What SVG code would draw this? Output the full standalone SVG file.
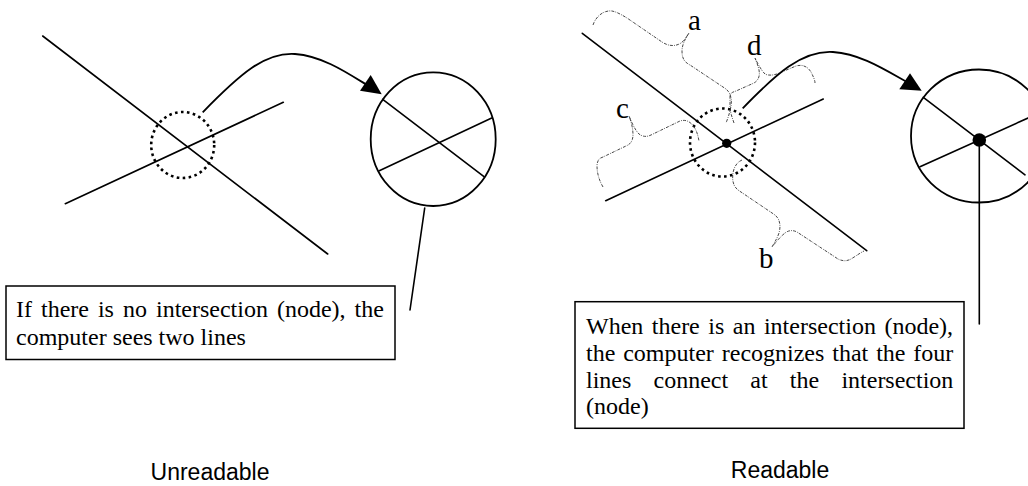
<svg xmlns="http://www.w3.org/2000/svg" width="1028" height="486" viewBox="0 0 1028 486">
<style>
.ln{stroke:#000;stroke-width:1.6;fill:none;stroke-linecap:round}
.crv{stroke:#000;stroke-width:1.8;fill:none}
.big{stroke:#000;stroke-width:1.8;fill:none}
.dot{stroke:#000;stroke-width:2.6;fill:none;stroke-dasharray:2.6 3.4}
.brace{stroke:#333;stroke-width:0.9;fill:none;stroke-dasharray:3 1.2 0.8 1.2}
.box{stroke:#000;stroke-width:1.5;fill:#fff}
.tx{font-family:"Liberation Serif","Times New Roman",serif;font-size:24px;fill:#000}
.lb{font-family:"Liberation Serif","Times New Roman",serif;font-size:29px;fill:#000}
.cap{font-family:"Liberation Sans",Arial,sans-serif;font-size:23px;fill:#000;text-anchor:middle}
</style>

<g id="left-lines">
<line class="ln" x1="42.7" y1="36" x2="327.7" y2="254"/>
<line class="ln" x1="65.3" y1="203.7" x2="283.3" y2="102.3"/>
<ellipse class="dot" cx="182.7" cy="145" rx="31.5" ry="33"/>
</g>
<g id="left-zoom">
<ellipse class="big" cx="433.2" cy="139.2" rx="62.5" ry="66.8"/>
<line class="ln" x1="382.7" y1="99.3" x2="484" y2="176.7"/>
<line class="ln" x1="379.3" y1="170.7" x2="491.7" y2="118"/>
</g>
<g id="left-box">
<rect class="box" x="6" y="286" width="389" height="73.5"/>
<text class="tx" x="16" y="316.7" word-spacing="3">If there is no intersection (node), the</text>
<text class="tx" x="16" y="345">computer sees two lines</text>
</g>
<text class="cap" x="210" y="480">Unreadable</text>

<g id="right-lines">
<line class="ln" x1="582.3" y1="33.3" x2="866.7" y2="250.7"/>
<line class="ln" x1="605.7" y1="200.7" x2="823.3" y2="99"/>
<ellipse class="dot" cx="722.5" cy="142.5" rx="32.5" ry="34"/>
<circle cx="726.7" cy="143.3" r="4.6" fill="#000"/>
</g>
<g id="braces">
<path class="brace" d="M593,25 C596,16 604,10 612,11 C617,12 622,15 627,18 L662,42 C668,46 675,47 681,43 C685,40 687,36 689,33 C685,39 682,45 682,51 C682,58 684,62 690,65 L726,89 C731,93 732,100 731,106 C730,112 728,118 726,123"/>
<path class="brace" d="M734,123 C732,117 730,112 730,106 L730,96 C730,93 733,92 736,91 L754,83 C759,80 760,75 759,70 C758,65 756,61 755,58 C758,64 761,70 765,74 C769,76 773,75 777,74 L796,66 C803,64 808,67 811,72 C813,76 815,80 815,83"/>
<path class="brace" d="M603,187 C599,180 597,173 597,166 C597,161 599,158 603,157 L626,146 C631,144 633,140 633,135 C633,128 631,121 629,116 C632,123 635,130 639,134 C643,137 647,137 651,135 L680,121 C686,119 691,122 694,127 C697,131 698,136 699,141"/>
<path class="brace" d="M742,160 C737,162 734,167 733,173 C732,180 733,186 738,190 L775,215 C780,219 781,226 779,233 C777,239 774,243 772,247 C776,242 780,237 785,233 C789,230 793,230 797,232 L835,257 C840,261 846,262 851,259 C856,256 860,253 864,251"/>
<text class="lb" x="688" y="30">a</text>
<text class="lb" x="759" y="268">b</text>
<text class="lb" x="616" y="118">c</text>
<text class="lb" x="747" y="55">d</text>
</g>
<g id="right-zoom">
<ellipse class="big" cx="979" cy="136" rx="68" ry="66.5"/>
<line class="ln" x1="923.3" y1="97.3" x2="1025" y2="174.8"/>
<line class="ln" x1="920" y1="166.7" x2="1028" y2="118"/>
<circle cx="979.3" cy="140" r="6.8" fill="#000"/>
</g>
<g id="right-box">
<rect class="box" x="575" y="301.7" width="389" height="126.6"/>
<text class="tx" x="586" y="334" word-spacing="2.5">When there is an intersection (node),</text>
<text class="tx" x="586" y="361" word-spacing="1.9">the computer recognizes that the four</text>
<text class="tx" x="586" y="387.5" word-spacing="16.2">lines connect at the intersection</text>
<text class="tx" x="586" y="414">(node)</text>
</g>
<text class="cap" x="780" y="478">Readable</text>

<g id="connectors">
<path class="crv" d="M202.7,112.3 C240,74 265,52 295,54 C322,56 346,72 367,85"/>
<path d="M381.7,94.3 L360,90.7 L370.7,75 Z" fill="#000"/>
<path class="crv" d="M742.7,108.3 C776,74 802,50 833,52 C860,54 882,68 907,82"/>
<path d="M921.7,90.7 L899.3,89.3 L910,73.3 Z" fill="#000"/>
<line class="ln" x1="424.7" y1="208" x2="410" y2="310"/>
<line class="ln" x1="979.3" y1="140" x2="979.3" y2="324"/>
</g>
</svg>
